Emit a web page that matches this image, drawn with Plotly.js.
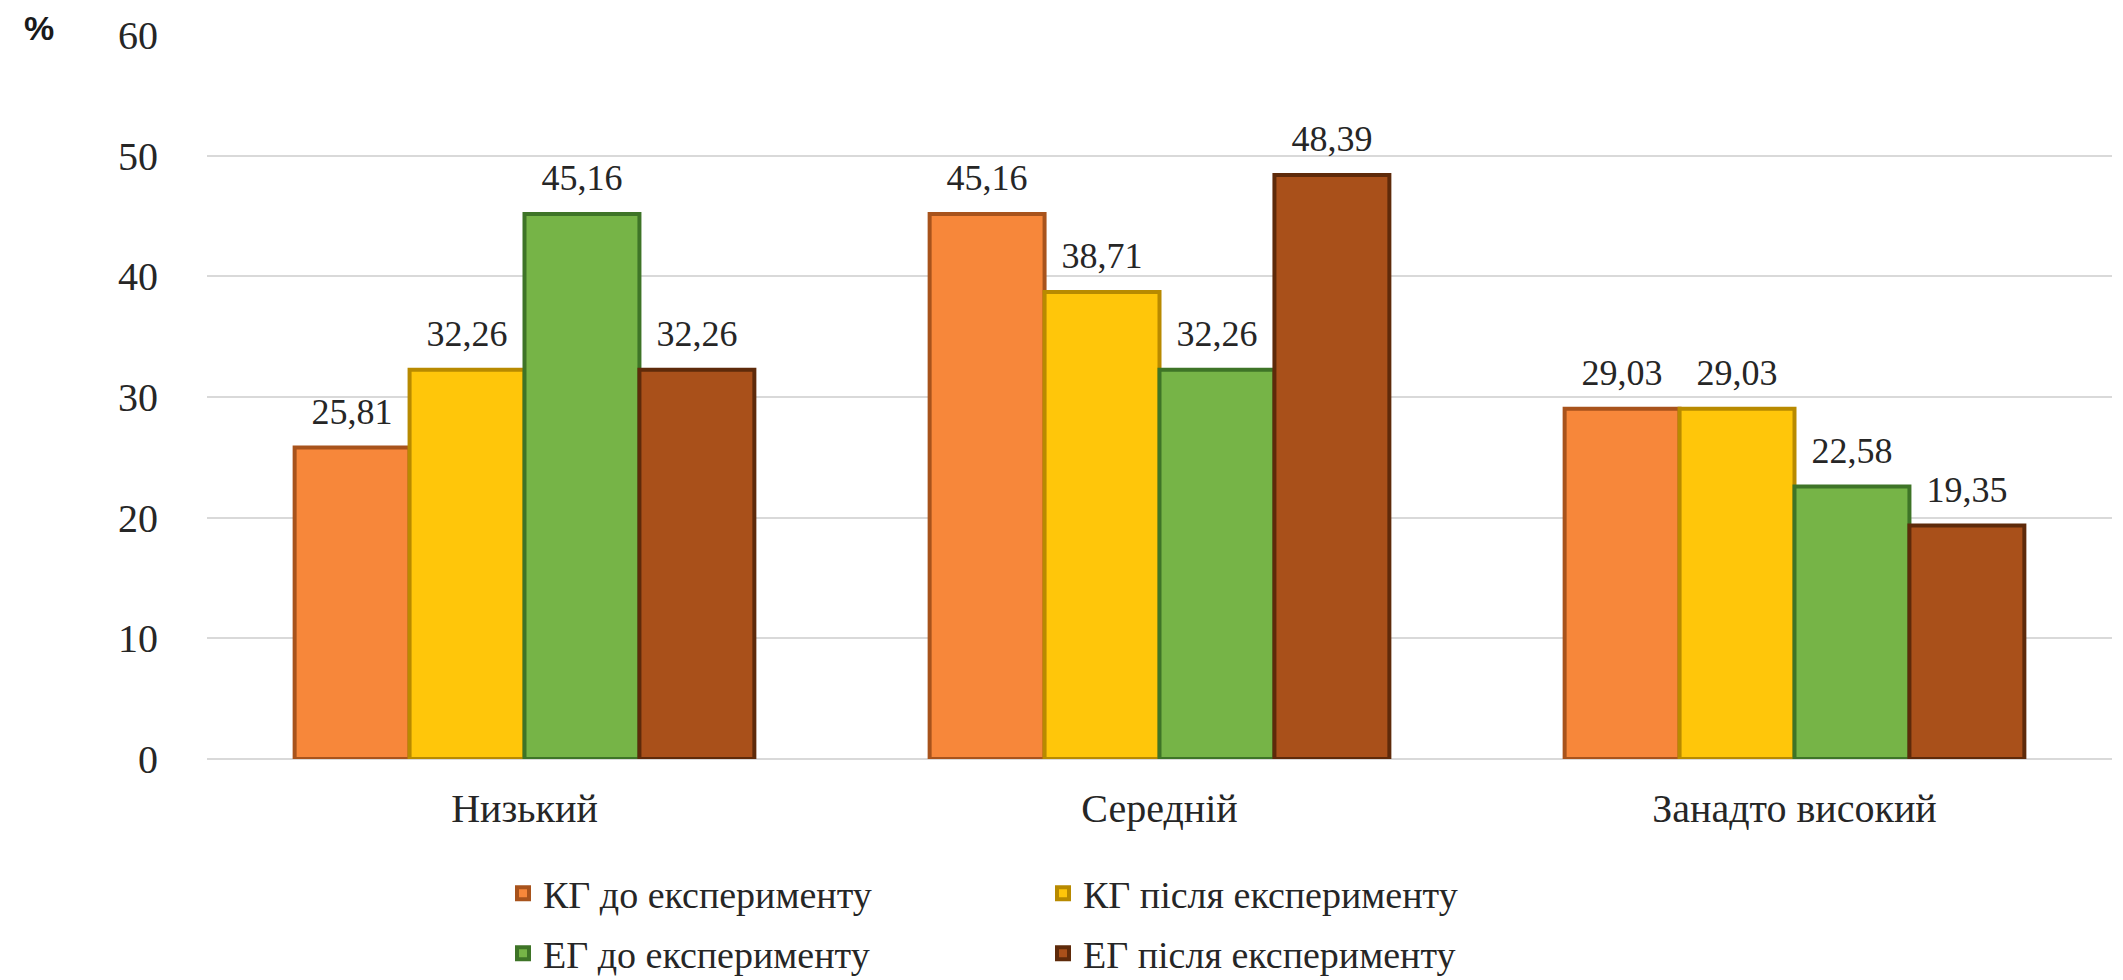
<!DOCTYPE html>
<html>
<head>
<meta charset="utf-8">
<script src="https://cdn.plot.ly/plotly-3.0.1.min.js"></script>
<style>html,body{margin:0;padding:0;background:#fff;}#chart{width:2123px;height:980px;}</style>
</head>
<body>
<div id="chart"></div>
<script>
const categories = ['Низький', 'Середній', 'Занадто високий'];
const seriesNames = ['КГ до експерименту', 'КГ після експерименту', 'ЕГ до експерименту', 'ЕГ після експерименту'];
const kgBefore = [25.81, 45.16, 29.03];
const kgAfter = [32.26, 38.71, 29.03];
const egBefore = [45.16, 32.26, 22.58];
const egAfter = [32.26, 48.39, 19.35];
const yTicks = [0, 10, 20, 30, 40, 50, 60];

const seriesValues = [kgBefore, kgAfter, egBefore, egAfter];
const fillColors = ['#F7873A', '#FFC60A', '#76B447', '#A9501A'];
const edgeColors = ['#A8531C', '#B88A00', '#3E7427', '#5E2A0A'];
const legendRows = ['legend', 'legend', 'legend2', 'legend2'];

const serif = 'Liberation Serif, Times New Roman, serif';
const traces = [];
seriesValues.forEach((vals, i) => {
  traces.push({
    type: 'bar', name: seriesNames[i], x: categories, y: vals,
    offsetgroup: 'g' + i, legend: legendRows[i],
    marker: {color: fillColors[i], line: {color: edgeColors[i], width: 4}},
    hoverinfo: 'name+y'
  });
});
seriesValues.forEach((vals, i) => {
  traces.push({
    type: 'scatter', mode: 'markers+text', x: categories, y: vals,
    offsetgroup: 'g' + i, showlegend: false, hoverinfo: 'skip',
    marker: {size: 22, opacity: 0},
    text: vals.map(v => v.toFixed(2).replace('.', ',')),
    textposition: 'top center',
    textfont: {family: serif, size: 36, color: '#262626'},
    cliponaxis: false
  });
});

const legendBase = {
  orientation: 'h', xref: 'container', yref: 'container',
  x: 503 / 2123, xanchor: 'left', yanchor: 'top',
  entrywidth: 495, entrywidthmode: 'pixels',
  font: {family: serif, size: 38, color: '#262626'},
  bgcolor: 'rgba(0,0,0,0)'
};

const layout = {
  width: 2123, height: 980,
  margin: {l: 207, r: 11, t: 35, b: 221},
  paper_bgcolor: '#ffffff', plot_bgcolor: '#ffffff',
  barmode: 'group', scattermode: 'group',
  bargap: 0.276, bargroupgap: 0,
  separators: ', ',
  font: {family: serif, color: '#262626'},
  xaxis: {
    type: 'category', showgrid: false, zeroline: false, showline: false,
    ticks: '', tickfont: {family: serif, size: 40, color: '#262626'},
    ticklabelstandoff: 22
  },
  yaxis: {
    range: [0, 60], tickvals: yTicks, showgrid: true, gridcolor: '#D9D9D9', gridwidth: 2,
    zeroline: true, zerolinecolor: '#D9D9D9', zerolinewidth: 2, showline: false,
    ticks: '', tickfont: {family: serif, size: 40, color: '#262626'},
    ticklabelstandoff: 48
  },
  legend: Object.assign({}, legendBase, {y: 1 - 862 / 980}),
  legend2: Object.assign({}, legendBase, {y: 1 - 922 / 980}),
  annotations: [{
    text: '%', xref: 'paper', yref: 'paper', x: -0.088, y: 1.01,
    xanchor: 'center', yanchor: 'middle', showarrow: false,
    font: {family: 'Liberation Sans, Arial, sans-serif', size: 34, color: '#1a1a1a', weight: 'bold'}
  }],
  showlegend: true
};

Plotly.newPlot('chart', traces, layout, {displayModeBar: false, staticPlot: true});
</script>
</body>
</html>
